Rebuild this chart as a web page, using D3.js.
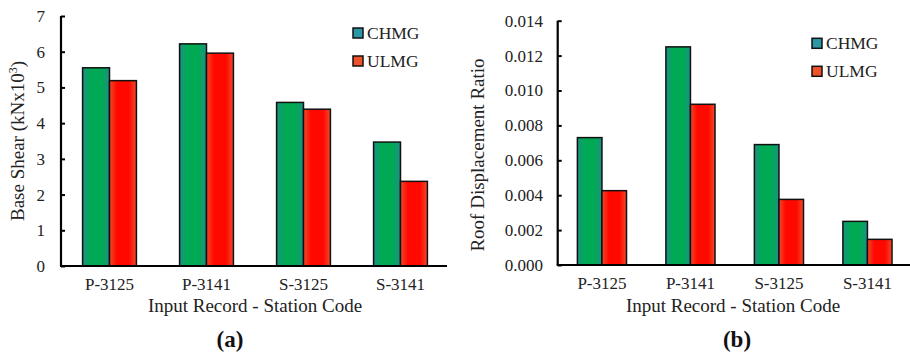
<!DOCTYPE html>
<html>
<head>
<meta charset="utf-8">
<script src="https://cdn.jsdelivr.net/npm/d3@7"></script>
<style>
  body { margin: 0; background: #fff; }
  svg { display: block; font-family: "Liberation Serif", "Times New Roman", serif; }
</style>
</head>
<body>
<div id="container"></div>
<script>
//DATA
const stations = ["P-3125", "P-3141", "S-3125", "S-3141"];
const seriesNames = ["CHMG", "ULMG"];

const shearCHMG = [5.55, 6.22, 4.58, 3.47];
const shearULMG = [5.19, 5.96, 4.39, 2.37];
const shearTicks = [0, 1, 2, 3, 4, 5, 6, 7];

const roofCHMG = [0.0073, 0.0125, 0.0069, 0.0025];
const roofULMG = [0.00426, 0.00921, 0.00376, 0.00147];
const roofTicks = [0, 0.002, 0.004, 0.006, 0.008, 0.010, 0.012, 0.014];

const width = 910, height = 354;

const svg = d3.select("#container")
  .append("svg")
  .attr("width", width)
  .attr("height", height);

// gradients for the bars (excel style, darker edges)
const defs = svg.append("defs");
const grads = [
  {id: "gGreen", edge: "#1f8f85", mid: "#00aa55"},
  {id: "gRed", edge: "#f04a2a", mid: "#ff0800"}
];
grads.forEach(g => {
  const lg = defs.append("linearGradient").attr("id", g.id)
    .attr("x1", 0).attr("x2", 1).attr("y1", 0).attr("y2", 0);
  lg.append("stop").attr("offset", "0%").attr("stop-color", g.edge);
  lg.append("stop").attr("offset", "28%").attr("stop-color", g.mid);
  lg.append("stop").attr("offset", "72%").attr("stop-color", g.mid);
  lg.append("stop").attr("offset", "100%").attr("stop-color", g.edge);
});
const barFill = ["url(#gGreen)", "url(#gRed)"];
const legendFill = ["#2b97a6", "#f0532b"];

function drawPanel(opts) {
  const g = svg.append("g");
  const x = d3.scaleBand()
    .domain(stations)
    .range([opts.left, opts.right])
    .paddingInner(0.445)
    .paddingOuter(0.2225);
  const xs = d3.scaleBand().domain(seriesNames).range([0, x.bandwidth()]);
  const y = d3.scaleLinear()
    .domain([0, opts.ticks[opts.ticks.length - 1]])
    .range([opts.bottom, opts.top]);

  const rows = stations.map((s, i) => ({station: s, vals: [opts.a[i], opts.b[i]]}));

  g.selectAll("g.grp")
    .data(rows)
    .join("g")
    .attr("class", "grp")
    .attr("transform", d => `translate(${x(d.station)},0)`)
    .selectAll("rect")
    .data(d => d.vals.map((v, k) => ({k, v})))
    .join("rect")
    .attr("x", d => xs(seriesNames[d.k]))
    .attr("width", xs.bandwidth())
    .attr("y", d => y(d.v))
    .attr("height", d => opts.bottom - y(d.v))
    .attr("fill", d => barFill[d.k])
    .attr("stroke", "#111")
    .attr("stroke-width", 1.5);

  // y axis (ticks inside)
  const yAxis = d3.axisRight(y)
    .tickValues(opts.ticks)
    .tickSize(4)
    .tickFormat(() => "");
  const yg = g.append("g")
    .attr("transform", `translate(${opts.left},0)`)
    .call(yAxis);
  yg.select(".domain").attr("stroke", "#000").attr("stroke-width", 2.2)
    .attr("d", `M0,${opts.top}V${opts.bottom}`);
  yg.selectAll(".tick line").attr("stroke", "#000").attr("stroke-width", 2);

  g.selectAll("text.ytick")
    .data(opts.ticks)
    .join("text")
    .attr("class", "ytick")
    .attr("x", opts.left - opts.labelGap)
    .attr("y", d => y(d))
    .attr("dy", "0.35em")
    .attr("text-anchor", "end")
    .attr("font-size", 17)
    .attr("fill", "#222")
    .text(opts.fmt);

  // x axis
  const xAxis = d3.axisBottom(x).tickSize(0).tickPadding(12);
  const xg = g.append("g")
    .attr("transform", `translate(0,${opts.bottom})`)
    .call(xAxis);
  xg.select(".domain").attr("stroke", "#000").attr("stroke-width", 2.2)
    .attr("d", `M${opts.left - 1},0H${opts.axisEnd}`);
  xg.selectAll("text")
    .attr("font-size", 17)
    .attr("font-family", "Liberation Serif")
    .attr("fill", "#222");

  // axis titles
  g.append("text")
    .attr("x", opts.xTitleX)
    .attr("y", 312)
    .attr("text-anchor", "middle")
    .attr("font-size", 19)
    .attr("fill", "#222")
    .text("Input Record - Station Code");

  const yt = g.append("text")
    .attr("transform", `translate(${opts.yTitleX},${opts.yTitleY}) rotate(-90)`)
    .attr("text-anchor", "middle")
    .attr("font-size", 19)
    .attr("fill", "#222");
  yt.append("tspan").text(opts.yTitle);
  if (opts.sup) {
    yt.append("tspan").attr("font-size", 12).attr("dy", -7).text(opts.sup);
    yt.append("tspan").attr("dy", 7).text(")");
  }

  // legend
  const lg = g.selectAll("g.leg")
    .data(seriesNames)
    .join("g")
    .attr("class", "leg")
    .attr("transform", (d, i) => `translate(${opts.legX},${opts.legY + i * 28})`);
  lg.append("rect")
    .attr("x", 0).attr("y", -5).attr("width", 10).attr("height", 10)
    .attr("fill", (d, i) => legendFill[i])
    .attr("stroke", "#111").attr("stroke-width", 1.5);
  lg.append("text")
    .attr("x", 14).attr("y", 0).attr("dy", "0.35em")
    .attr("font-size", 17.5)
    .attr("fill", "#222")
    .text(d => d);

  // panel label
  g.append("text")
    .attr("x", opts.labelX)
    .attr("y", 347)
    .attr("text-anchor", "middle")
    .attr("font-size", 23)
    .attr("font-weight", "bold")
    .attr("fill", "#111")
    .text(opts.label);
}

drawPanel({
  a: shearCHMG, b: shearULMG, ticks: shearTicks,
  left: 61, right: 449, top: 16, bottom: 266, axisEnd: 447,
  labelGap: 16, fmt: d => d3.format("d")(d),
  yTitle: "Base Shear (kNx10", sup: "3", yTitleX: 24, yTitleY: 141,
  xTitleX: 255, legX: 353, legY: 33, labelX: 230, label: "(a)"
});

drawPanel({
  a: roofCHMG, b: roofULMG, ticks: roofTicks,
  left: 557.7, right: 911.7, top: 20.7, bottom: 265, axisEnd: 910,
  labelGap: 14.7, fmt: d => d3.format(".3f")(d),
  yTitle: "Roof Displacement Ratio", sup: null, yTitleX: 484, yTitleY: 155,
  xTitleX: 733, legX: 812, legY: 43.3, labelX: 737, label: "(b)"
});
</script>
</body>
</html>
